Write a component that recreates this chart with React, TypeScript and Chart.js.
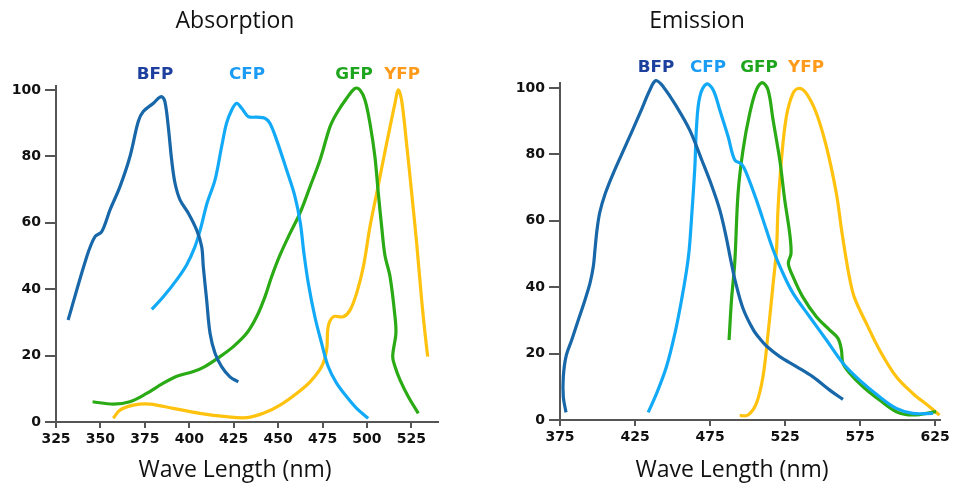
import { useEffect, useRef } from "react";
import { Chart, registerables } from "chart.js";

Chart.register(...registerables);

// ---------- Absorption data (wavelength nm / relative %) ----------
const absBfpNm = [331.8, 342.3, 346.9, 350.7, 355.4, 361.0, 366.6, 371.3, 374.1, 379.8, 382.6, 384.5, 386.3, 388.2, 390.1, 392.0, 394.8, 399.5, 404.2, 407.0, 407.9, 409.8, 411.7, 414.5, 418.2, 422.9, 427.6];
const absBfpVal = [30.7, 49.8, 55.8, 57.3, 63.9, 70.9, 79.9, 90.5, 93.5, 96.0, 97.5, 98.0, 96.5, 88.9, 78.9, 71.9, 66.9, 62.9, 57.8, 52.8, 46.8, 36.7, 26.7, 20.7, 16.7, 13.6, 12.1];

const absCfpNm = [378.9, 385.4, 392.9, 398.5, 403.0, 406.5, 410.0, 414.5, 418.2, 421.0, 423.9, 426.7, 429.5, 433.2, 437.9, 442.6, 445.4, 449.2, 454.8, 459.5, 462.5, 464.5, 467.0, 470.7, 474.5, 478.2, 482.9, 488.6, 494.2, 500.7];
const absCfpVal = [33.9, 37.7, 42.8, 47.3, 52.5, 58.5, 65.9, 72.9, 82.9, 90.0, 94.0, 96.0, 94.5, 92.0, 91.8, 91.5, 90.0, 84.9, 75.9, 67.9, 60.0, 51.0, 41.8, 31.7, 23.7, 16.7, 11.7, 7.6, 4.1, 1.1];

const absGfpNm = [345.6, 357.2, 366.6, 376.0, 385.4, 393.8, 402.3, 408.8, 417.3, 424.8, 432.3, 437.9, 442.6, 446.4, 451.1, 456.7, 462.3, 468.0, 473.6, 479.2, 483.0, 488.6, 493.3, 496.1, 498.9, 501.7, 504.5, 506.4, 508.3, 510.1, 513.0, 515.8, 516.3, 514.5, 515.8, 518.6, 523.3, 528.9];
const absGfpVal = [6.1, 5.4, 6.1, 8.6, 11.7, 13.9, 15.2, 16.7, 19.7, 22.7, 26.7, 31.7, 37.7, 43.8, 50.3, 56.8, 62.9, 70.9, 78.9, 88.9, 93.0, 97.5, 100.5, 100.0, 97.0, 90.0, 79.9, 68.9, 58.8, 50.3, 43.8, 31.7, 26.7, 19.7, 16.7, 12.7, 7.6, 2.6];

const absYfpNm = [357.2, 361.0, 368.5, 377.9, 391.0, 406.0, 421.0, 432.3, 441.7, 451.1, 460.4, 468.0, 474.5, 477.3, 478.2, 481.1, 486.7, 490.5, 494.2, 498.0, 501.7, 505.5, 509.2, 513.0, 515.8, 517.6, 519.5, 522.3, 525.2, 528.0, 530.8, 532.7, 534.2];
const absYfpVal = [1.1, 3.6, 5.1, 5.4, 4.1, 2.6, 1.6, 1.3, 2.6, 5.1, 8.6, 12.1, 16.7, 21.7, 28.7, 31.7, 31.7, 33.7, 38.8, 46.8, 58.8, 68.9, 78.9, 88.9, 96.0, 100.0, 97.0, 83.9, 68.9, 53.8, 36.7, 26.7, 19.7];

// ---------- Emission data ----------
const emBfpNm = [379.0, 377.2, 377.2, 379.0, 382.8, 387.2, 391.6, 395.0, 397.2, 398.3, 399.6, 401.5, 405.0, 410.5, 419.4, 428.3, 434.9, 438.9, 443.8, 452.7, 461.5, 469.5, 476.2, 481.5, 485.5, 488.8, 492.0, 497.0, 503.7, 508.5, 512.6, 521.5, 532.6, 543.6, 554.8, 563.6];
const emBfpVal = [2.3, 7.0, 13.0, 19.1, 24.1, 30.1, 36.1, 41.2, 46.2, 51.2, 57.0, 62.5, 68.0, 74.3, 83.3, 92.4, 99.4, 102.2, 100.4, 94.4, 87.3, 78.3, 70.5, 63.3, 55.7, 48.2, 41.5, 33.6, 27.3, 24.3, 22.3, 19.1, 16.1, 13.0, 9.0, 6.2];

const emCfpNm = [433.8, 439.4, 446.0, 451.6, 456.0, 459.4, 461.1, 462.6, 464.9, 466.0, 468.2, 472.7, 477.1, 481.5, 487.1, 491.5, 496.0, 499.3, 505.9, 512.6, 517.1, 522.6, 530.3, 541.4, 552.6, 563.6, 574.7, 588.0, 599.2, 610.2, 623.6];
const emCfpVal = [2.3, 8.0, 16.1, 26.1, 36.1, 45.2, 51.2, 60.2, 76.3, 88.3, 97.4, 101.2, 99.4, 93.4, 85.3, 78.3, 77.1, 74.3, 66.3, 57.2, 51.2, 45.2, 38.2, 31.1, 24.1, 17.1, 12.0, 7.0, 3.5, 2.0, 2.0];

const emGfpNm = [487.7, 489.3, 491.5, 493.7, 497.0, 501.5, 505.9, 509.9, 513.7, 517.0, 521.5, 524.8, 528.1, 529.0, 527.2, 530.3, 536.8, 545.9, 554.8, 560.3, 562.6, 563.6, 568.1, 577.0, 588.0, 599.2, 610.2, 625.7];
const emGfpVal = [24.1, 36.1, 47.5, 68.3, 81.3, 92.4, 99.4, 101.6, 99.4, 90.4, 78.3, 66.3, 56.2, 50.2, 47.2, 43.2, 37.1, 31.1, 27.1, 24.6, 21.1, 17.1, 14.1, 10.0, 6.0, 2.5, 1.5, 2.5];

const emYfpNm = [494.8, 500.3, 505.9, 510.3, 513.7, 517.1, 519.3, 520.3, 522.6, 525.9, 530.3, 534.3, 539.2, 545.9, 552.6, 559.2, 562.7, 565.3, 568.0, 571.4, 579.2, 588.0, 599.2, 610.2, 621.3, 628.0];
const emYfpVal = [1.3, 1.5, 5.0, 13.0, 26.1, 41.2, 51.2, 63.3, 78.3, 91.4, 98.4, 99.9, 98.4, 92.4, 82.3, 68.3, 57.2, 49.7, 42.8, 36.7, 29.1, 21.1, 13.0, 8.0, 4.0, 1.5];

// ---------- Labels / ticks ----------
const proteinNames = ["BFP", "CFP", "GFP", "YFP"];
const lineColors = ["#1767a9", "#12aaf7", "#2aaa14", "#ffc20e"];
const labelColors = ["#1d3f9e", "#1a9cf5", "#1ea51e", "#ff9a1a"];
const absLabelNm = [380.7, 432.5, 492.8, 519.8];
const absLabelVal = 104.5;
const emLabelNm = [439.0, 473.7, 507.7, 539.0];
const emLabelVal = 106.0;

const absXTicks = [325, 350, 375, 400, 425, 450, 475, 500, 525];
const emXTicks = [375, 425, 475, 525, 575, 625];
const yTicks = [0, 20, 40, 60, 80, 100];

const toPoints = (xs: number[], ys: number[]) => xs.map((x, i) => ({ x, y: ys[i] }));

const tickFont = { family: "'DejaVu Sans', sans-serif", size: 14, weight: "bold" as const };
const axisColor = "#555";

function buildChart(
  canvas: HTMLCanvasElement,
  series: { nm: number[]; val: number[] }[],
  labelNm: number[],
  labelVal: number,
  xMin: number,
  xMax: number,
  xTicks: number[],
  yMax: number,
  padding: { left: number; right: number; top: number; bottom: number }
) {
  const labelPlugin = {
    id: "fpLabels",
    afterDatasetsDraw(chart: any) {
      const ctx = chart.ctx;
      ctx.save();
      ctx.font = "bold 15px 'DejaVu Sans', sans-serif";
      ctx.textAlign = "center";
      ctx.textBaseline = "middle";
      proteinNames.forEach((name, i) => {
        const x = chart.scales.x.getPixelForValue(labelNm[i]);
        const y = chart.scales.y.getPixelForValue(labelVal);
        ctx.save();
        ctx.translate(x, y);
        ctx.scale(1.12, 1);
        ctx.fillStyle = labelColors[i];
        ctx.fillText(name, 0, 0);
        ctx.restore();
      });
      ctx.restore();
    },
  };

  return new Chart(canvas, {
    type: "scatter",
    data: {
      datasets: series.map((s, i) => ({
        label: proteinNames[i],
        data: toPoints(s.nm, s.val),
        showLine: true,
        borderColor: lineColors[i],
        backgroundColor: lineColors[i],
        borderWidth: 3.2,
        pointRadius: 0,
        tension: 0.35,
        clip: false as any,
      })),
    },
    options: {
      animation: false,
      responsive: false,
      maintainAspectRatio: false,
      layout: { padding },
      plugins: { legend: { display: false }, tooltip: { enabled: false }, title: { display: false } },
      scales: {
        x: {
          type: "linear",
          min: xMin,
          max: xMax,
          afterBuildTicks: (scale: any) => {
            scale.ticks = xTicks.map((v) => ({ value: v }));
          },
          afterFit: (scale: any) => {
            scale.height = 28;
          },
          ticks: {
            autoSkip: false,
            maxRotation: 0,
            minRotation: 0,
            padding: 3,
            color: "#111",
            font: tickFont,
            callback: (v: any) => String(v),
          },
          grid: { drawOnChartArea: false, drawTicks: true, tickLength: 6, color: axisColor, lineWidth: 2 },
          border: { display: true, color: axisColor, width: 2 },
        },
        y: {
          type: "linear",
          min: 0,
          max: yMax,
          afterBuildTicks: (scale: any) => {
            scale.ticks = yTicks.map((v) => ({ value: v }));
          },
          afterFit: (scale: any) => {
            scale.width = 56;
          },
          ticks: {
            padding: 4,
            color: "#111",
            font: tickFont,
            callback: (v: any) => String(v),
          },
          grid: { drawOnChartArea: false, drawTicks: true, tickLength: 11, color: axisColor, lineWidth: 2 },
          border: { display: true, color: axisColor, width: 2 },
        },
      },
    },
    plugins: [labelPlugin],
  } as any);
}

const textStyle: React.CSSProperties = {
  position: "absolute",
  width: 300,
  textAlign: "center",
  fontFamily: "'Open Sans', sans-serif",
  fontSize: 23,
  lineHeight: "23px",
  color: "#111",
  whiteSpace: "nowrap",
};

export default function App() {
  const leftRef = useRef<HTMLCanvasElement>(null);
  const rightRef = useRef<HTMLCanvasElement>(null);

  useEffect(() => {
    const left = buildChart(
      leftRef.current!,
      [
        { nm: absBfpNm, val: absBfpVal },
        { nm: absCfpNm, val: absCfpVal },
        { nm: absGfpNm, val: absGfpVal },
        { nm: absYfpNm, val: absYfpVal },
      ],
      absLabelNm,
      absLabelVal,
      325,
      540,
      absXTicks,
      101.2,
      { left: 0, right: 39, top: 86, bottom: 42 }
    );
    const right = buildChart(
      rightRef.current!,
      [
        { nm: emBfpNm, val: emBfpVal },
        { nm: emCfpNm, val: emCfpVal },
        { nm: emGfpNm, val: emGfpVal },
        { nm: emYfpNm, val: emYfpVal },
      ],
      emLabelNm,
      emLabelVal,
      375,
      628.3,
      emXTicks,
      101.5,
      { left: 27, right: 14, top: 83, bottom: 44 }
    );
    return () => {
      left.destroy();
      right.destroy();
    };
  }, []);

  return (
    <div style={{ position: "absolute", left: 0, top: 0, width: 954, height: 492, background: "#fff", overflow: "hidden" }}>
      <canvas ref={leftRef} width={477} height={492} style={{ position: "absolute", left: 0, top: 0, width: 477, height: 492 }} />
      <canvas ref={rightRef} width={477} height={492} style={{ position: "absolute", left: 477, top: 0, width: 477, height: 492 }} />
      <div style={{ ...textStyle, left: 235 - 150, top: 8 }}>Absorption</div>
      <div style={{ ...textStyle, left: 697 - 150, top: 8 }}>Emission</div>
      <div style={{ ...textStyle, left: 235 - 150, top: 457 }}>Wave Length (nm)</div>
      <div style={{ ...textStyle, left: 732 - 150, top: 457 }}>Wave Length (nm)</div>
    </div>
  );
}
